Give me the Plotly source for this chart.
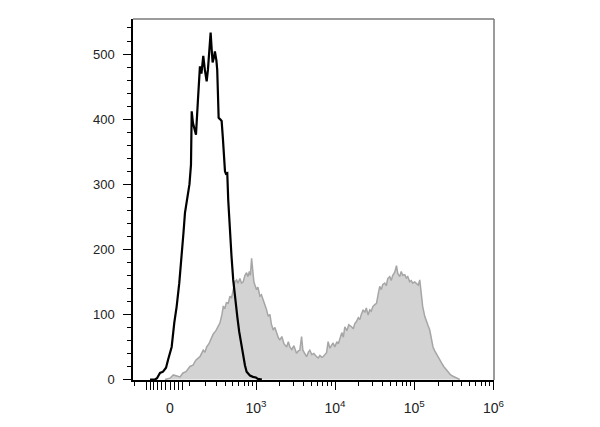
import numpy as np
import plotly.graph_objects as go

# ---- data: histogram counts on the biexponential display scale (display units = decades) ----
black_x = [-0.252, -0.189, -0.164, -0.126, -0.088, -0.050, -0.025, 0.021, 0.054, 0.084,
           0.117, 0.148, 0.170, 0.189, 0.211, 0.227, 0.246, 0.265, 0.274, 0.290,
           0.309, 0.328, 0.353, 0.378, 0.397, 0.420, 0.441, 0.463, 0.479, 0.498,
           0.513, 0.530, 0.538, 0.555, 0.567, 0.586, 0.596, 0.605, 0.614, 0.631,
           0.652, 0.668, 0.694, 0.706, 0.723, 0.735, 0.757, 0.776, 0.798, 0.820,
           0.832, 0.851, 0.874, 0.895, 0.924, 0.946, 0.967, 0.990, 1.009, 1.047,
           1.084, 1.110, 1.160]
black_y = [0, 0, 2, 10, 12, 18, 30, 50, 87, 112,
           148, 189, 225, 256, 276, 290, 300, 330, 412, 394,
           385, 376, 430, 481, 470, 497, 475, 458, 476, 505,
           533, 500, 487, 495, 504, 490, 476, 440, 402, 400,
           397, 370, 320, 316, 317, 276, 225, 190, 153, 125,
           112, 95, 73, 57, 38, 22, 12, 8, 6, 4,
           3, 1, 0]

gray_x = [-0.063, 0.000, 0.042, 0.088, 0.126, 0.164, 0.202, 0.252, 0.290, 0.328,
          0.378, 0.420, 0.441, 0.463, 0.492, 0.517, 0.546, 0.580, 0.605, 0.631,
          0.656, 0.672, 0.694, 0.712, 0.735, 0.757, 0.776, 0.798, 0.820, 0.841,
          0.857, 0.883, 0.902, 0.924, 0.946, 0.967, 0.984, 1.002, 1.015, 1.030,
          1.043, 1.059, 1.072, 1.093, 1.110, 1.135, 1.154, 1.177, 1.198, 1.217,
          1.240, 1.261, 1.280, 1.303, 1.324, 1.346, 1.368, 1.387, 1.412, 1.438,
          1.472, 1.494, 1.513, 1.538, 1.564, 1.598, 1.620, 1.639, 1.661, 1.677,
          1.702, 1.724, 1.747, 1.765, 1.791, 1.816, 1.850, 1.873, 1.892, 1.917,
          1.933, 1.955, 1.976, 1.996, 2.018, 2.037, 2.059, 2.081, 2.106, 2.125,
          2.144, 2.169, 2.188, 2.207, 2.232, 2.257, 2.291, 2.314, 2.333, 2.354,
          2.377, 2.396, 2.415, 2.438, 2.459, 2.478, 2.501, 2.522, 2.541, 2.560,
          2.585, 2.607, 2.629, 2.648, 2.667, 2.686, 2.711, 2.730, 2.749, 2.774,
          2.793, 2.812, 2.837, 2.859, 2.875, 2.900, 2.919, 2.938, 2.963, 2.982,
          3.001, 3.026, 3.045, 3.064, 3.089, 3.111, 3.134, 3.153, 3.174, 3.190,
          3.216, 3.241, 3.260, 3.279, 3.298, 3.320, 3.342, 3.367, 3.405, 3.430,
          3.455, 3.489, 3.518, 3.543, 3.572, 3.615, 3.657]
gray_y = [0, 2, 7, 5, 4, 10, 12, 20, 22, 30,
          35, 45, 42, 50, 55, 62, 70, 75, 82, 87,
          100, 112, 110, 118, 117, 128, 125, 138, 150, 153,
          148, 155, 148, 150, 160, 164, 158, 166, 160, 186,
          164, 150, 145, 138, 142, 128, 130, 122, 118, 108,
          97, 100, 85, 76, 80, 71, 64, 61, 66, 55,
          50, 58, 50, 46, 52, 40, 44, 45, 66, 45,
          40, 35, 42, 45, 38, 40, 35, 33, 37, 34,
          35, 38, 41, 58, 48, 52, 56, 50, 58, 55,
          61, 72, 65, 81, 75, 84, 81, 78, 86, 89,
          95, 92, 100, 107, 103, 110, 99, 107, 105, 112,
          115, 117, 132, 143, 138, 146, 148, 144, 155, 158,
          152, 160, 165, 175, 163, 158, 166, 160, 161, 156,
          158, 150, 152, 148, 150, 148, 145, 153, 127, 112,
          97, 90, 82, 76, 65, 50, 44, 38, 30, 25,
          20, 15, 11, 7, 5, 2, 0]

major_vals = [0, 1e3, 1e4, 1e5, 1e6]
major_text = ["0", "10<sup>3</sup>", "10<sup>4</sup>", "10<sup>5</sup>", "10<sup>6</sup>"]
near_zero_vals = [-120, -100, -80, -60, -40, -20, 20, 40, 60]
minor_vals = ([-200] + [k * 100 for k in range(1, 10)] + [k * 1e3 for k in range(2, 10)]
              + [k * 1e4 for k in range(2, 10)] + [k * 1e5 for k in range(2, 10)])

C = 165.0


def biex(v):
    return np.arcsinh(np.asarray(v, dtype=float) / C) / np.log(10)


tickvals = list(biex(major_vals)) + list(biex(near_zero_vals))
ticktext = major_text + [""] * len(near_zero_vals)

fig = go.Figure()
fig.add_trace(go.Scatter(x=gray_x, y=gray_y, mode="lines", fill="tozeroy",
                         fillcolor="#d3d3d3", line=dict(color="#a6a6a6", width=1.5),
                         showlegend=False, hoverinfo="skip"))
fig.add_trace(go.Scatter(x=black_x, y=black_y, mode="lines",
                         line=dict(color="black", width=2.2),
                         showlegend=False, hoverinfo="skip"))

yfont = dict(family="Liberation Sans, Arial, sans-serif", size=13, color="#222")
xfont = dict(family="Liberation Sans, Arial, sans-serif", size=14, color="#222")

fig.update_layout(
    width=600, height=427,
    # the page body has an 8px margin, so the plot box is shifted back by 8px
    margin=dict(l=125, r=114, t=11, b=55),
    paper_bgcolor="white", plot_bgcolor="white",
    font=yfont,
    xaxis=dict(range=[-0.467, 4.09], showgrid=False, zeroline=False,
               showline=True, linecolor="black", linewidth=1.5,
               tickmode="array", tickvals=tickvals, ticktext=ticktext,
               ticks="outside", ticklen=8, tickwidth=1.3, tickcolor="black",
               ticklabelstandoff=6,
               minor=dict(tickmode="array", tickvals=list(biex(minor_vals)),
                          ticks="outside", ticklen=4, tickwidth=1.2, tickcolor="black"),
               tickfont=xfont),
    yaxis=dict(range=[-0.8, 553.8], showgrid=False, zeroline=False,
               showline=True, linecolor="black", linewidth=1.5,
               tickmode="array", tickvals=[0, 100, 200, 300, 400, 500],
               ticks="outside", ticklen=8, tickwidth=1.3, tickcolor="black",
               ticklabelstandoff=6,
               minor=dict(dtick=20, tick0=0, ticks="outside", ticklen=4,
                          tickwidth=1.2, tickcolor="black"),
               tickfont=yfont),
    shapes=[
        dict(type="line", xref="paper", yref="paper", x0=0, x1=1, y0=1, y1=1,
             line=dict(color="#7a7a7a", width=1.5)),
        dict(type="line", xref="paper", yref="paper", x0=1, x1=1, y0=0, y1=1,
             line=dict(color="#7a7a7a", width=1.5)),
    ],
)

fig.write_html("out.html")
